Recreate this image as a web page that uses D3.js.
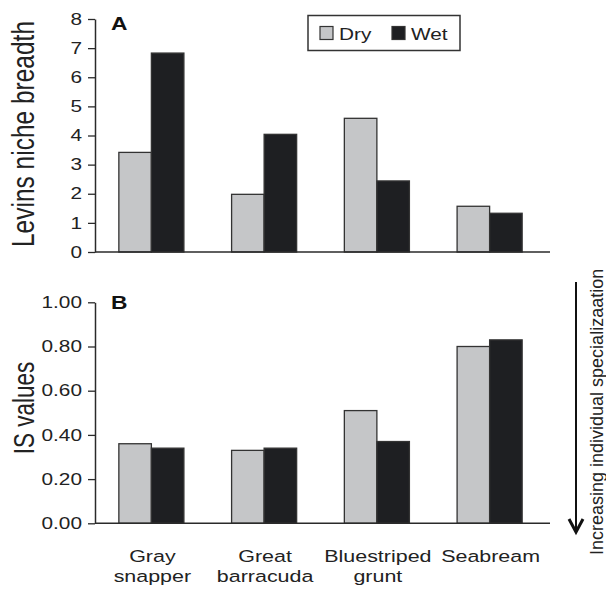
<!DOCTYPE html>
<html>
<head>
<meta charset="utf-8">
<script src="https://cdn.jsdelivr.net/npm/d3@7"></script>
<style>
  body { margin: 0; background: #fff; }
  svg { display: block; font-family: "Liberation Sans", Arial, sans-serif; }
</style>
</head>
<body>
<div id="chart"></div>
<script>
const categories = ['Gray snapper', 'Great barracuda', 'Bluestriped grunt', 'Seabream'];
const categoryLines = [['Gray', 'snapper'], ['Great', 'barracuda'], ['Bluestriped', 'grunt'], ['Seabream']];
const seasons = ['Dry', 'Wet'];
const nicheDry = [3.42, 1.98, 4.59, 1.57];
const nicheWet = [6.83, 4.04, 2.44, 1.33];
const isDry = [0.36, 0.33, 0.51, 0.80];
const isWet = [0.34, 0.34, 0.37, 0.83];
const nicheTicks = [0, 1, 2, 3, 4, 5, 6, 7, 8];
const isTicks = [0, 0.2, 0.4, 0.6, 0.8, 1.0];

const width = 606, height = 591;
const colors = { Dry: '#c5c6c8', Wet: '#1e1f22' };
const ink = '#2a2a2a';
const SX = 1.3; // the original figure's type is stretched sideways

const svg = d3.select('#chart').append('svg')
  .attr('width', width)
  .attr('height', height);

const x = d3.scaleBand()
  .domain(categories)
  .range([95, 546])
  .paddingInner(0.423)
  .paddingOuter(0.2115);

const xi = d3.scaleBand()
  .domain(seasons)
  .range([0, x.bandwidth()]);

function wideText(parent, tx, ty, size, str, anchor, bold) {
  return parent.append('text')
    .attr('transform', `translate(${tx},${ty}) scale(${SX},1)`)
    .attr('text-anchor', anchor || 'start')
    .style('font-size', size + 'px')
    .style('font-weight', bold ? 'bold' : 'normal')
    .attr('fill', bold ? '#111' : '#222')
    .text(str);
}

// one panel: bars + y axis + baseline
function panel(y, dry, wet, ticks, fmt, letter, letterY, title, titleY, titleSize) {
  const rows = categories.map((c, i) => ({ cat: c, Dry: dry[i], Wet: wet[i] }));
  const g = svg.append('g');

  g.selectAll('g.grp')
    .data(rows)
    .join('g')
    .attr('class', 'grp')
    .attr('transform', d => `translate(${x(d.cat)},0)`)
    .selectAll('rect')
    .data(d => seasons.map(s => ({ s, v: d[s] })))
    .join('rect')
    .attr('x', d => xi(d.s))
    .attr('y', d => y(d.v))
    .attr('width', xi.bandwidth())
    .attr('height', d => y(0) - y(d.v))
    .attr('fill', d => colors[d.s])
    .attr('stroke', '#333')
    .attr('stroke-width', 1.3);

  const ax = g.append('g')
    .attr('transform', 'translate(95,0)')
    .call(d3.axisLeft(y).tickValues(ticks).tickFormat(fmt).tickSize(7).tickSizeOuter(0).tickPadding(6));
  ax.select('.domain').attr('stroke', ink).attr('stroke-width', 1.5);
  ax.selectAll('.tick line').attr('stroke', ink).attr('stroke-width', 1.3);
  ax.selectAll('.tick text')
    .attr('x', 0)
    .attr('transform', `translate(-13,0) scale(${SX},1)`)
    .attr('fill', '#222')
    .style('font-size', '16px');

  g.append('line')
    .attr('x1', 95).attr('x2', 550)
    .attr('y1', y(0)).attr('y2', y(0))
    .attr('stroke', ink).attr('stroke-width', 1.5);

  g.append('text')
    .attr('transform', `translate(111,${letterY}) scale(1.2,1)`)
    .style('font-size', '19px')
    .style('font-weight', 'bold')
    .attr('fill', '#111')
    .text(letter);

  g.append('text')
    .attr('transform', `translate(34,${titleY}) scale(${SX},1) rotate(-90)`)
    .attr('text-anchor', 'middle')
    .style('font-size', titleSize + 'px')
    .attr('fill', '#222')
    .text(title);
}

const yA = d3.scaleLinear().domain([0, 8]).range([252, 19]);
const yB = d3.scaleLinear().domain([0, 1]).range([523.3, 302.3]);

panel(yA, nicheDry, nicheWet, nicheTicks, d3.format('d'), 'A', 30, 'Levins niche breadth', 134, 24.5);
panel(yB, isDry, isWet, isTicks, d3.format('.2f'), 'B', 309, 'IS values', 408, 22.5);

// category labels
const lab = svg.append('g');
categories.forEach((c, i) => {
  categoryLines[i].forEach((line, j) => {
    wideText(lab, x(c) + x.bandwidth() / 2 + 1, 562 + j * 20, 16.5, line, 'middle');
  });
});

// legend
const leg = svg.append('g');
leg.append('rect')
  .attr('x', 308).attr('y', 15.5)
  .attr('width', 152).attr('height', 35)
  .attr('fill', '#fff')
  .attr('stroke', '#333').attr('stroke-width', 1.5);
const legX = [320, 392];
seasons.forEach((s, i) => {
  leg.append('rect')
    .attr('x', legX[i]).attr('y', 26.5)
    .attr('width', 13).attr('height', 13)
    .attr('fill', colors[s])
    .attr('stroke', '#333').attr('stroke-width', 1.2);
  wideText(leg, legX[i] + 19, 39.5, 16, s);
});

// specialization arrow
svg.append('line')
  .attr('x1', 576).attr('x2', 576)
  .attr('y1', 282).attr('y2', 531)
  .attr('stroke', '#111').attr('stroke-width', 2);
svg.append('path')
  .attr('d', 'M569,519 L576,532 L583,519')
  .attr('fill', 'none')
  .attr('stroke', '#111').attr('stroke-width', 3);

svg.append('text')
  .attr('transform', 'translate(603,555) rotate(-90)')
  .style('font-size', '18px')
  .attr('fill', '#222')
  .text('Increasing individual specializaation');
</script>
</body>
</html>
